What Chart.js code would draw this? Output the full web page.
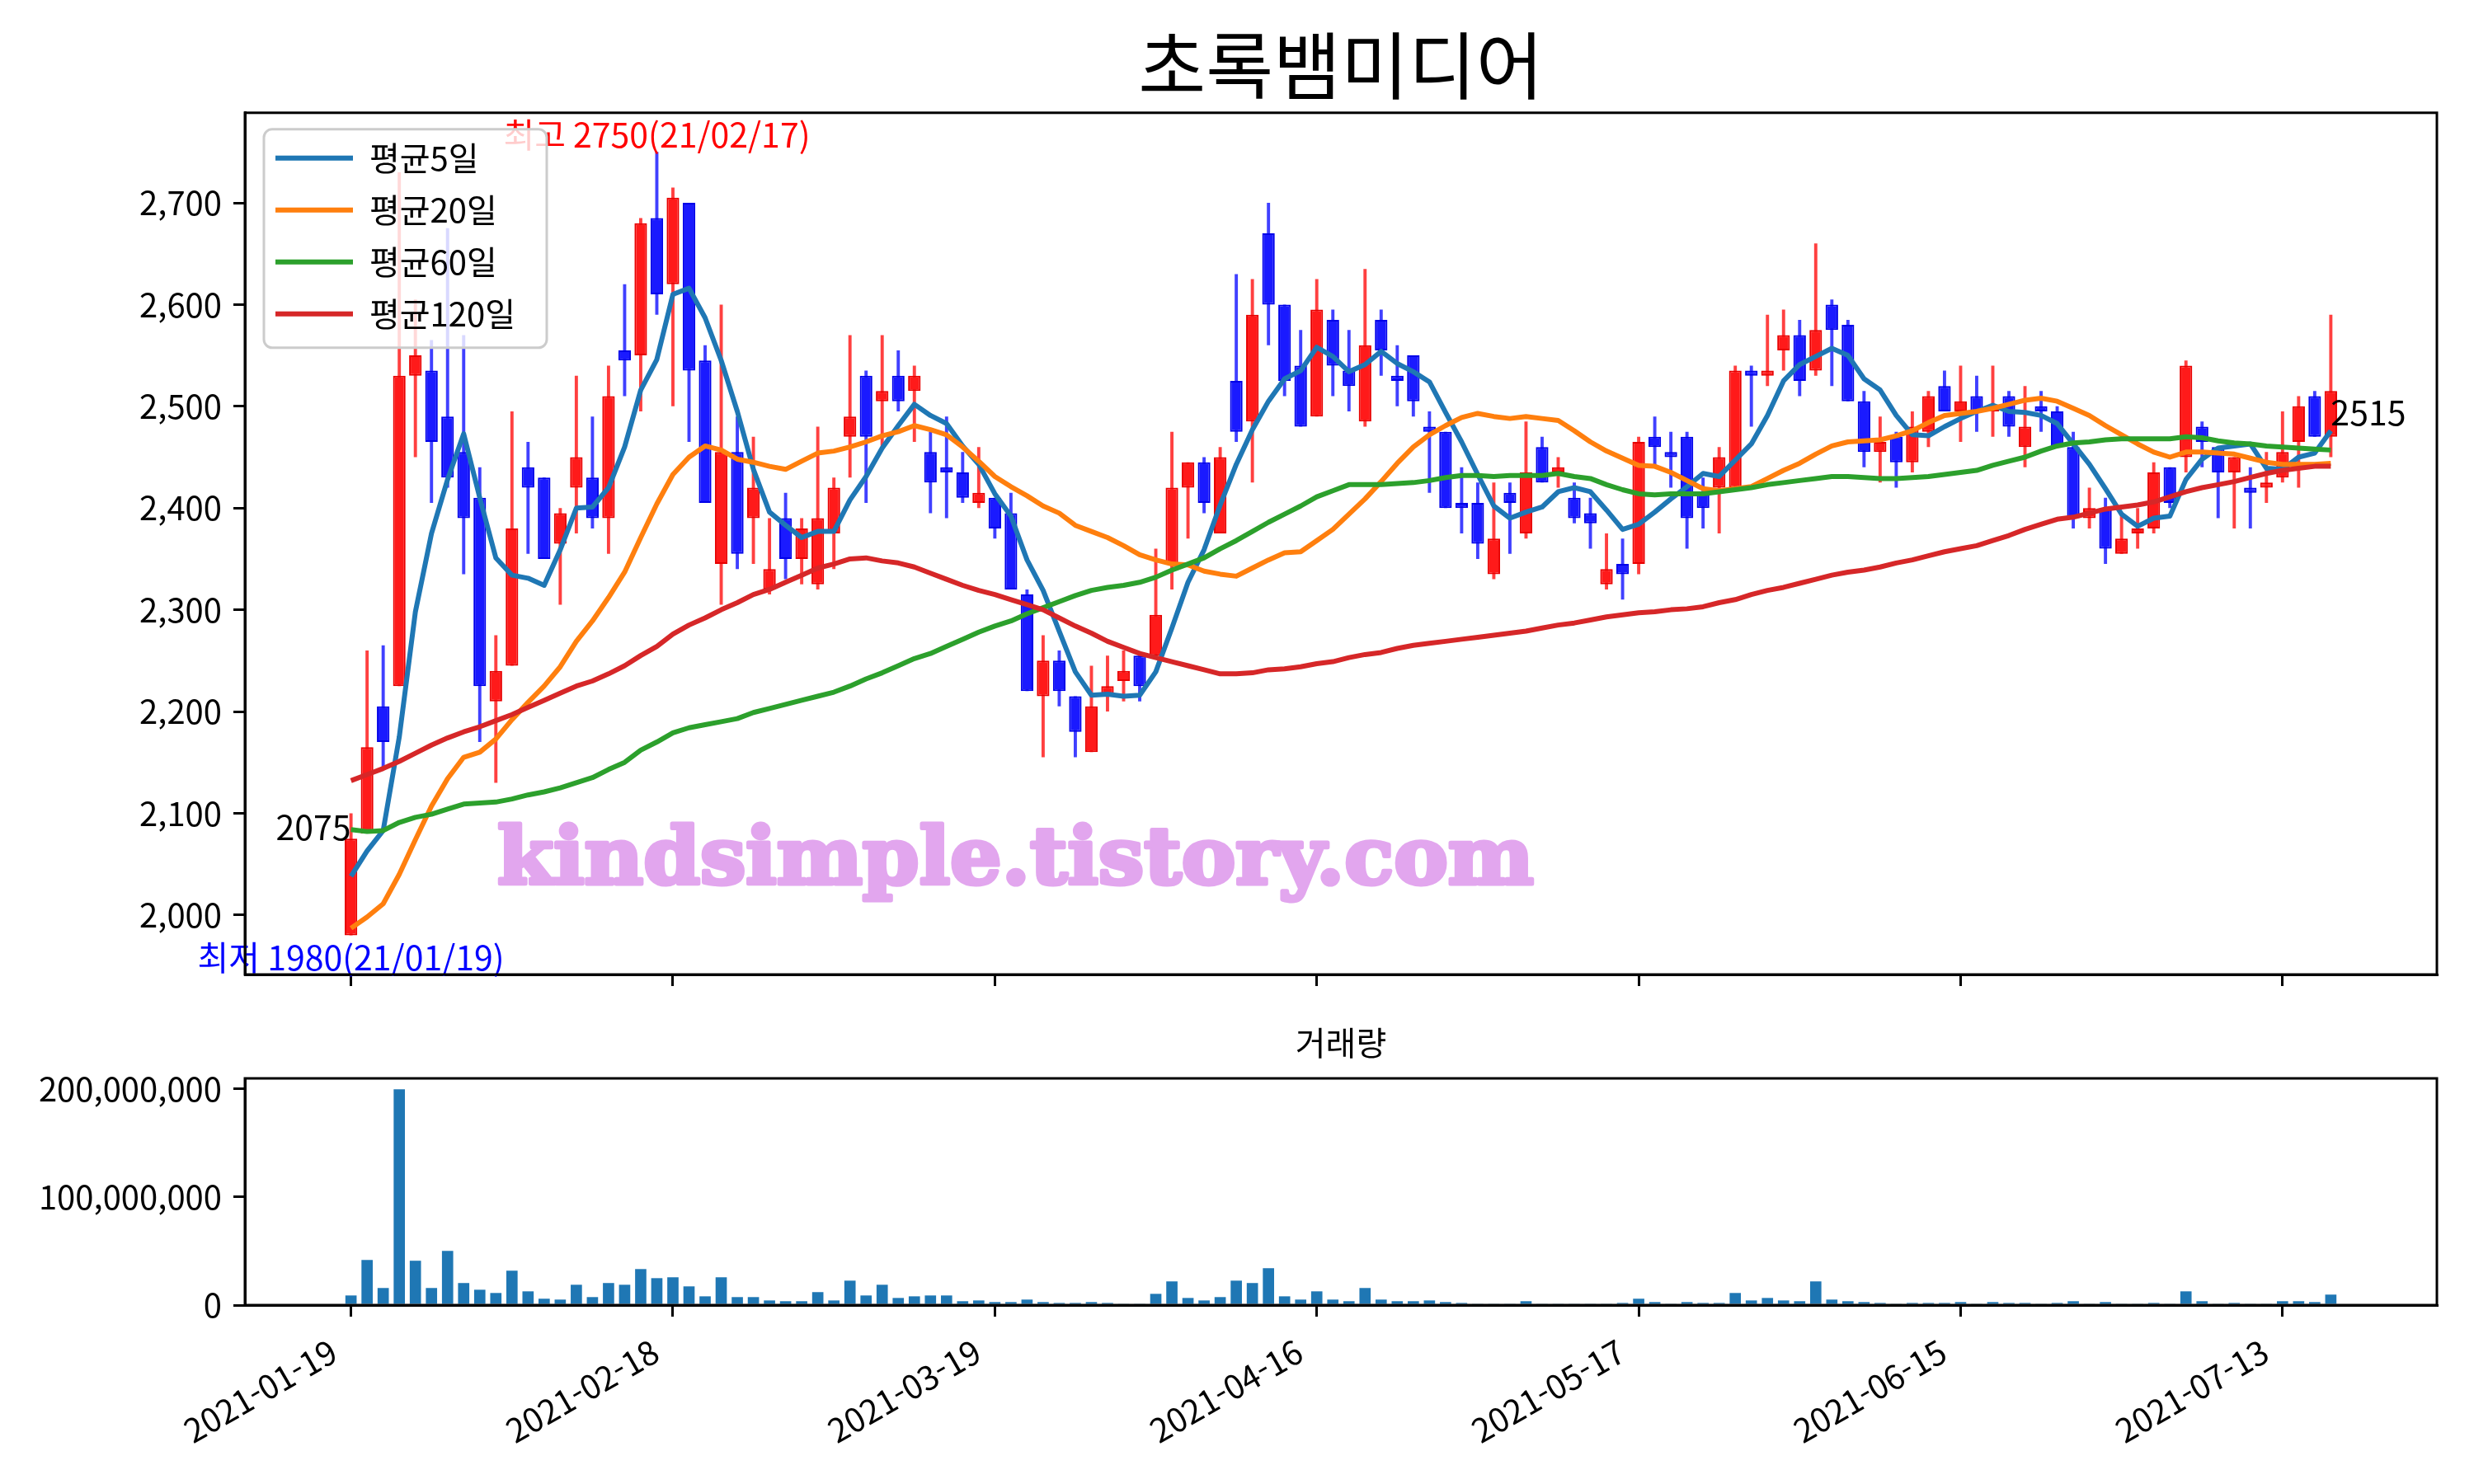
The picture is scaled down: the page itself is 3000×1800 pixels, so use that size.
<!DOCTYPE html>
<html lang="ko">
<head>
<meta charset="utf-8">
<title>초록뱀미디어</title>
<script src="https://cdn.jsdelivr.net/npm/chart.js@4.4.1/dist/chart.umd.min.js"></script>
<style>
  html, body { margin: 0; padding: 0; background: #fff; }
  #wrap { position: relative; width: 3000px; height: 1800px; }
  #priceChart { position: absolute; left: 0; top: 0; }
  #volChart { position: absolute; left: 0; top: 1220px; }
</style>
</head>
<body>
<div id="wrap">
  <canvas id="priceChart" width="3000" height="1220"></canvas>
  <canvas id="volChart" width="3000" height="580"></canvas>
</div>
<script>
const chartTitle = '초록뱀미디어';
const volumeTitle = '거래량';
const tickPositions = [0, 20, 40, 60, 80, 100, 120];
const tickLabels = ['2021-01-19', '2021-02-18', '2021-03-19', '2021-04-16', '2021-05-17', '2021-06-15', '2021-07-13'];
const volumeTicks = [0, 100000000, 200000000];

// daily candles, 2021-01-19 .. 2021-07-16
const opens = [1980,2080,2205,2225,2530,2535,2490,2455,2410,2210,
  2245,2440,2430,2365,2420,2430,2390,2555,2550,2685,
  2620,2700,2545,2345,2455,2390,2320,2390,2350,2325,
  2375,2470,2530,2505,2530,2515,2455,2440,2435,2405,
  2410,2395,2315,2215,2250,2215,2160,2215,2230,2255,
  2255,2345,2420,2445,2375,2525,2485,2670,2600,2540,
  2490,2585,2535,2485,2585,2530,2550,2480,2475,2405,
  2405,2335,2415,2375,2460,2435,2410,2395,2325,2345,
  2345,2470,2455,2470,2415,2420,2420,2535,2530,2555,
  2570,2535,2600,2580,2505,2455,2470,2445,2475,2520,
  2495,2510,2495,2510,2460,2500,2495,2460,2390,2400,
  2355,2375,2380,2440,2450,2480,2460,2435,2420,2420,
  2430,2465,2510,2470];
const highs = [2100,2260,2265,2730,2605,2565,2675,2570,2440,2275,
  2495,2465,2430,2400,2530,2490,2540,2620,2685,2750,
  2715,2700,2560,2600,2490,2470,2390,2415,2390,2480,
  2430,2570,2535,2570,2555,2540,2475,2490,2455,2460,
  2410,2415,2320,2275,2260,2215,2245,2255,2260,2255,
  2360,2475,2445,2450,2460,2630,2625,2700,2600,2575,
  2625,2595,2575,2635,2595,2560,2550,2495,2475,2440,
  2425,2425,2425,2485,2470,2450,2425,2410,2375,2370,
  2470,2490,2475,2475,2430,2460,2540,2540,2590,2595,
  2585,2660,2605,2585,2515,2490,2475,2495,2515,2535,
  2540,2530,2540,2515,2520,2515,2500,2475,2420,2410,
  2395,2400,2445,2440,2545,2485,2460,2450,2440,2455,
  2495,2510,2515,2590];
const lows = [1980,2080,2145,2225,2450,2405,2420,2335,2170,2130,
  2245,2355,2350,2305,2375,2380,2355,2510,2495,2590,
  2500,2465,2405,2305,2340,2345,2315,2330,2325,2320,
  2340,2430,2405,2460,2495,2465,2395,2390,2405,2400,
  2370,2320,2220,2155,2205,2155,2160,2200,2210,2210,
  2255,2320,2370,2395,2375,2465,2425,2560,2510,2480,
  2490,2510,2495,2480,2530,2500,2490,2415,2400,2375,
  2350,2330,2355,2370,2425,2420,2385,2360,2320,2310,
  2335,2440,2420,2360,2380,2375,2420,2480,2520,2535,
  2510,2530,2520,2505,2440,2425,2420,2435,2460,2495,
  2465,2475,2470,2470,2440,2475,2460,2380,2380,2345,
  2355,2360,2375,2400,2435,2440,2390,2380,2380,2405,
  2425,2420,2470,2450];
const closes = [2075,2165,2170,2530,2550,2465,2430,2390,2225,2240,
  2380,2420,2350,2395,2450,2390,2510,2545,2680,2610,
  2705,2535,2405,2455,2355,2420,2340,2350,2380,2390,
  2420,2490,2470,2515,2505,2530,2425,2435,2410,2415,
  2380,2320,2220,2250,2220,2180,2205,2225,2240,2225,
  2295,2420,2445,2405,2450,2475,2590,2600,2525,2480,
  2595,2540,2520,2560,2555,2525,2505,2475,2400,2400,
  2365,2370,2405,2435,2425,2440,2390,2385,2340,2335,
  2465,2460,2450,2390,2400,2450,2535,2530,2535,2570,
  2525,2575,2575,2505,2455,2465,2445,2480,2510,2495,
  2505,2495,2500,2480,2480,2495,2460,2390,2400,2360,
  2370,2380,2435,2405,2540,2465,2435,2450,2415,2425,
  2455,2500,2470,2515];

const ma5 = [2038,2063,2083,2175,2298,2375,2428,2473,2410,2351,
  2334,2331,2324,2359,2400,2401,2420,2460,2516,2546,
  2610,2616,2587,2545,2495,2438,2396,2383,2371,2377,
  2377,2408,2431,2459,2481,2502,2491,2483,2461,2443,
  2414,2392,2349,2319,2279,2239,2216,2217,2215,2216,
  2239,2282,2327,2359,2403,2443,2477,2505,2527,2535,
  2558,2549,2534,2541,2554,2542,2534,2524,2494,2465,
  2433,2402,2390,2396,2401,2416,2420,2416,2398,2379,
  2384,2396,2409,2421,2434,2431,2447,2463,2491,2525,
  2541,2549,2557,2550,2527,2516,2491,2472,2471,2480,
  2488,2495,2501,2495,2494,2491,2483,2463,2443,2419,
  2394,2382,2390,2392,2428,2448,2459,2461,2463,2439,
  2438,2450,2454,2476];
const ma20 = [1987,1998,2011,2040,2074,2107,2134,2155,2160,2173,
  2192,2209,2225,2244,2269,2289,2312,2337,2371,2404,
  2433,2450,2461,2457,2448,2445,2441,2438,2446,2454,
  2456,2460,2465,2471,2475,2481,2477,2472,2460,2446,
  2431,2421,2412,2402,2395,2383,2377,2371,2363,2354,
  2349,2345,2344,2338,2335,2333,2341,2349,2356,2357,
  2368,2379,2394,2409,2426,2444,2460,2472,2481,2489,
  2493,2490,2488,2490,2488,2486,2476,2465,2456,2449,
  2442,2441,2435,2427,2419,2417,2419,2421,2429,2437,
  2444,2453,2461,2465,2466,2467,2471,2476,2484,2491,
  2493,2495,2498,2502,2506,2508,2505,2498,2491,2481,
  2472,2463,2455,2450,2455,2455,2454,2453,2449,2445,
  2443,2443,2443,2444];
const ma60 = [2084,2082,2083,2091,2096,2099,2104,2109,2110,2111,
  2114,2118,2121,2125,2130,2135,2143,2150,2162,2170,
  2179,2184,2187,2190,2193,2199,2203,2207,2211,2215,
  2219,2225,2232,2238,2245,2252,2257,2264,2271,2278,
  2284,2289,2296,2302,2308,2314,2319,2322,2324,2327,
  2332,2339,2345,2351,2360,2368,2377,2386,2394,2402,
  2411,2417,2423,2423,2423,2424,2425,2427,2430,2432,
  2432,2431,2432,2432,2432,2434,2431,2429,2423,2418,
  2414,2413,2414,2414,2414,2416,2418,2420,2423,2425,
  2427,2429,2431,2431,2430,2429,2429,2430,2431,2433,
  2435,2437,2442,2446,2450,2456,2461,2464,2465,2467,
  2468,2468,2468,2468,2470,2469,2466,2464,2463,2461,
  2460,2459,2458,2457];
const ma120 = [2132,2138,2144,2151,2159,2167,2174,2180,2185,2191,
  2197,2204,2211,2218,2225,2230,2237,2245,2255,2264,
  2276,2285,2292,2300,2307,2315,2320,2327,2334,2341,
  2345,2350,2351,2348,2346,2342,2336,2330,2324,2319,
  2315,2310,2305,2300,2292,2284,2277,2269,2263,2257,
  2253,2249,2245,2241,2237,2237,2238,2241,2242,2244,
  2247,2249,2253,2256,2258,2262,2265,2267,2269,2271,
  2273,2275,2277,2279,2282,2285,2287,2290,2293,2295,
  2297,2298,2300,2301,2303,2307,2310,2315,2319,2322,
  2326,2330,2334,2337,2339,2342,2346,2349,2353,2357,
  2360,2363,2368,2373,2379,2384,2389,2391,2395,2399,
  2401,2403,2406,2411,2416,2420,2423,2426,2430,2434,
  2437,2439,2441,2441];

const volumes = [8900000,41700000,15800000,199500000,41000000,15800000,50100000,20400000,14200000,11200000,
  31800000,12700000,5900000,5100000,18800000,7400000,20400000,18800000,33300000,24900000,
  25700000,17300000,8100000,25700000,7400000,7400000,4300000,3600000,3600000,12000000,
  4300000,22600000,8900000,18800000,6600000,8100000,8900000,8900000,3600000,4300000,
  2800000,2800000,5100000,2800000,2000000,2000000,2800000,2000000,1300000,1300000,
  10400000,21900000,6600000,4300000,7400000,22600000,20400000,34100000,8100000,5100000,
  12700000,5100000,3600000,15800000,5100000,3600000,3600000,4300000,2800000,2000000,
  1300000,1300000,1300000,3600000,1300000,1300000,1300000,1300000,1300000,2000000,
  5900000,2800000,1300000,2800000,2000000,2000000,11200000,4300000,6600000,4300000,
  3600000,21900000,5100000,3600000,2800000,2000000,1300000,2000000,2000000,2000000,
  2800000,1300000,2800000,2000000,2000000,1300000,2000000,3600000,1300000,2800000,
  1300000,1300000,2000000,1300000,12700000,3600000,1300000,2000000,1300000,1300000,
  3600000,3600000,2800000,9700000];

const maLabels = ['평균5일', '평균20일', '평균60일', '평균120일'];
const maColors = ['#1f77b4', '#ff7f0e', '#2ca02c', '#d62728'];

const noteIndex = [19, 0, 0, 123];
const noteValue = [2750, 1980, 2075, 2515];
const noteText = ['최고 2750(21/02/17)', '최저 1980(21/01/19)', '2075', '2515'];
const noteColor = ['#ff0000', '#0000ff', '#000000', '#000000'];
const noteAlign = ['center', 'center', 'right', 'left'];
const noteBaseline = ['bottom', 'top', 'bottom', 'top'];
const noteNudge = [0, 6, 7, 6];

const watermark = 'kindsimple.tistory.com';

Chart.defaults.font.family = "'Noto Sans CJK KR', 'Noto Sans', sans-serif";
Chart.defaults.color = '#000';

const XMIN = -6.59;
const XMAX = 129.59;

function points(arr) {
  return arr.map((v, i) => ({ x: i, y: v }));
}

const up = closes.map((c, i) => c >= opens[i]);
const bodyFill = up.map(u => u ? 'rgb(255,26,26)' : 'rgb(26,26,255)');
const bodyEdge = up.map(u => u ? 'rgb(232,0,0)' : 'rgb(0,0,232)');
const wickColor = up.map(u => u ? 'rgb(255,64,64)' : 'rgb(64,64,255)');

function xAxis(showLabels, height) {
  return {
    type: 'linear',
    min: XMIN,
    max: XMAX,
    offset: false,
    ticks: {
      stepSize: 20,
      includeBounds: false,
      autoSkip: false,
      minRotation: showLabels ? 30 : 0,
      maxRotation: showLabels ? 30 : 0,
      labelOffset: showLabels ? -21 : 0,
      padding: 18,
      font: { size: 40 },
      callback: v => {
        if (!showLabels) return '';
        const k = tickPositions.indexOf(v);
        return k >= 0 ? tickLabels[k] : '';
      }
    },
    grid: { display: true, drawOnChartArea: false, drawTicks: true, tickLength: 14, color: '#000', lineWidth: 3, offset: false },
    border: { display: true, color: '#000', width: 3 },
    afterFit: s => { s.height = height; }
  };
}

function yAxis(min, max, step, fixedTicks) {
  const axis = {
    min: min,
    max: max,
    ticks: {
      stepSize: step,
      includeBounds: false,
      padding: 14,
      font: { size: 40 },
      callback: v => v.toLocaleString('en-US')
    },
    grid: { display: true, drawOnChartArea: false, drawTicks: true, tickLength: 14, color: '#000', lineWidth: 3 },
    border: { display: true, color: '#000', width: 3 },
    afterFit: s => { s.width = 297; }
  };
  if (fixedTicks) {
    axis.afterBuildTicks = s => { s.ticks = fixedTicks.map(v => ({ value: v })); };
  }
  return axis;
}

// black box round the plot area (top and right spines)
const spines = {
  id: 'spines',
  afterDraw(chart) {
    const { ctx, chartArea: a } = chart;
    ctx.save();
    ctx.strokeStyle = '#000';
    ctx.lineWidth = 3;
    ctx.strokeRect(a.left, a.top, a.right - a.left, a.bottom - a.top);
    ctx.restore();
  }
};

const priceExtras = {
  id: 'priceExtras',
  afterLayout(chart) {
    chart.legend.left = chart.chartArea.left + 14;
    chart.legend.top = chart.chartArea.top + 12;
  },
  afterDatasetsDraw(chart) {
    const { ctx } = chart;
    const x = chart.scales.x;
    const y = chart.scales.y;

    ctx.save();
    ctx.font = 'bold 95px "DejaVu Serif"';
    const w = ctx.measureText(watermark).width;
    ctx.translate(603, 1072);
    ctx.scale(1257 / w, 1);
    ctx.fillStyle = '#e2a6ee';
    ctx.strokeStyle = '#e2a6ee';
    ctx.lineWidth = 5;
    ctx.lineJoin = 'round';
    ctx.textAlign = 'left';
    ctx.textBaseline = 'alphabetic';
    ctx.strokeText(watermark, 0, 0);
    ctx.fillText(watermark, 0, 0);
    ctx.restore();

    ctx.save();
    ctx.font = "41px 'Noto Sans CJK KR'";
    noteText.forEach((t, k) => {
      ctx.fillStyle = noteColor[k];
      ctx.textAlign = noteAlign[k];
      ctx.textBaseline = noteBaseline[k];
      ctx.fillText(t, x.getPixelForValue(noteIndex[k]), y.getPixelForValue(noteValue[k]) + noteNudge[k]);
    });
    ctx.restore();
  },
  afterDraw(chart) {
    const { ctx, chartArea: a } = chart;
    ctx.save();
    ctx.beginPath();
    ctx.roundRect(a.left + 23, a.top + 20, 343, 265, 10);
    ctx.fillStyle = 'rgba(255,255,255,0.8)';
    ctx.fill();
    ctx.strokeStyle = '#cccccc';
    ctx.lineWidth = 3;
    ctx.stroke();
    ctx.restore();
    chart.legend.draw();
  }
};

const maSets = [ma5, ma20, ma60, ma120].map((arr, k) => ({
  type: 'line',
  label: maLabels[k],
  data: points(arr),
  borderColor: maColors[k],
  backgroundColor: maColors[k],
  borderWidth: 6,
  pointRadius: 0,
  tension: 0,
  borderJoinStyle: 'round',
  order: 0.3 - k * 0.1
}));

new Chart(document.getElementById('priceChart'), {
  type: 'bar',
  data: {
    datasets: [
      ...maSets,
      {
        type: 'bar',
        label: 'body',
        data: opens.map((o, i) => ({ x: i, y: [o, closes[i]] })),
        backgroundColor: bodyFill,
        borderColor: bodyEdge,
        borderWidth: 2,
        borderSkipped: false,
        barPercentage: 0.78,
        categoryPercentage: 1,
        grouped: false,
        order: 1
      },
      {
        type: 'bar',
        label: 'wick',
        data: lows.map((l, i) => ({ x: i, y: [l, highs[i]] })),
        backgroundColor: wickColor,
        barPercentage: 0.2,
        categoryPercentage: 1,
        grouped: false,
        order: 2
      }
    ]
  },
  options: {
    responsive: false,
    animation: false,
    devicePixelRatio: 1,
    events: [],
    layout: { padding: { top: 26, right: 45, left: 0, bottom: 0 } },
    scales: {
      x: xAxis(false, 28),
      y: yAxis(1941.5, 2788.5, 100)
    },
    plugins: {
      title: {
        display: true,
        text: chartTitle,
        fullSize: false,
        font: { size: 89, weight: 'normal' },
        color: '#000',
        padding: { top: 0, bottom: 4 }
      },
      legend: {
        position: 'chartArea',
        align: 'start',
        labels: {
          filter: item => item.datasetIndex < 4,
          sort: (a, b) => a.datasetIndex - b.datasetIndex,
          usePointStyle: true,
          pointStyle: 'line',
          pointStyleWidth: 94,
          font: { size: 40 },
          color: '#000',
          padding: 23
        }
      },
      tooltip: { enabled: false }
    }
  },
  plugins: [priceExtras, spines]
});

new Chart(document.getElementById('volChart'), {
  type: 'bar',
  data: {
    datasets: [{
      label: volumeTitle,
      data: points(volumes),
      backgroundColor: '#1f77b4',
      barPercentage: 0.7,
      categoryPercentage: 1
    }]
  },
  options: {
    responsive: false,
    animation: false,
    devicePixelRatio: 1,
    events: [],
    layout: { padding: { top: 21, right: 45, left: 0, bottom: 0 } },
    scales: {
      x: xAxis(true, 217),
      y: yAxis(0, 209500000, 100000000, volumeTicks)
    },
    plugins: {
      title: {
        display: true,
        text: volumeTitle,
        fullSize: false,
        font: { size: 40, weight: 'normal' },
        color: '#000',
        padding: { top: 0, bottom: 19 }
      },
      legend: { display: false },
      tooltip: { enabled: false }
    }
  },
  plugins: [spines]
});
</script>
</body>
</html>
